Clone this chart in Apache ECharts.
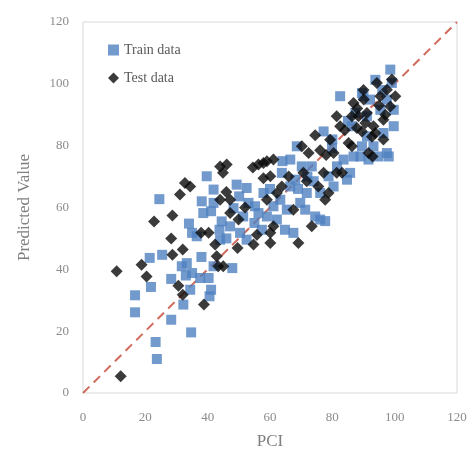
<!DOCTYPE html>
<html>
<head>
<meta charset="utf-8">
<script src="https://cdn.jsdelivr.net/npm/echarts@6/dist/echarts.min.js"></script>
<style>
  html, body { margin: 0; padding: 0; background: #fff; }
  #chart { width: 474px; height: 457px; }
</style>
</head>
<body>
<div id="chart"></div>
<script>
// train data (PCI, predicted)
var trainX = [16.7, 16.7, 21.8, 21.4, 24.5, 25.4, 23.3, 23.7, 28.3, 34.7, 28.3, 31.7, 33.3, 32.2, 34.4, 35.0, 34.0, 35.0,
  37.6, 40.3, 41.1, 40.6, 39.7, 38.1, 41.1, 41.9, 43.8, 44.0, 47.2, 47.9, 41.9, 49.3, 50.1, 51.4, 50.4, 55.2, 52.5,
  59.0, 61.1, 62.2, 64.8, 63.8, 66.5, 68.1, 68.6, 67.5, 69.7, 71.8, 73.4, 74.5, 76.1, 77.7, 76.1, 78.8, 77.2, 79.9,
  81.5, 82.5, 83.6, 84.7, 86.3, 87.4, 89.0, 89.5, 91.1, 91.6, 93.2, 94.8, 96.4, 97.5, 98.1, 98.6, 99.7, 99.7, 97.5,
  99.1, 92.1, 91.1, 95.4, 93.8, 52.5, 57.4, 36.5, 38.6, 41.9, 44.5, 48.3, 53.1, 56.3, 57.9, 63.3, 65.4, 66.5, 70.2,
  71.3, 74.0, 80.4, 85.7, 86.8, 89.5, 90.0, 96.0, 85.0, 80.0, 72.0, 60.0, 55.0, 46.0, 38.0, 33.0, 64.0, 69.0];
var trainY = [31.6, 26.1, 34.3, 43.7, 62.7, 44.7, 16.5, 11.0, 23.7, 19.6, 36.9, 41.0, 42.0, 28.6, 33.4, 38.8, 54.8, 51.8,
  37.2, 37.2, 33.4, 31.3, 70.1, 62.0, 58.8, 65.8, 52.8, 49.6, 53.9, 40.4, 41.0, 67.4, 63.6, 57.1, 51.8, 60.4, 66.3,
  57.1, 60.4, 56.1, 52.8, 71.2, 75.5, 69.0, 79.8, 51.8, 61.5, 64.7, 73.3, 57.1, 56.1, 55.6, 64.7, 70.1, 84.6, 79.2,
  73.3, 96.0, 75.5, 69.0, 86.3, 90.6, 76.5, 97.0, 83.0, 75.5, 79.8, 76.5, 84.1, 77.6, 76.5, 104.6, 91.6, 86.3, 94.9,
  100.3, 94.9, 89.5, 91.6, 101.3, 49.6, 52.8, 50.7, 58.2, 61.5, 55.5, 59.8, 61.5, 58.2, 64.7, 62.5, 59.3, 66.8, 73.3,
  59.3, 68.5, 66.8, 71.2, 76.5, 79.8, 96.0, 98.0, 88.0, 82.0, 70.0, 66.0, 55.0, 50.0, 44.0, 38.0, 75.0, 66.0];

// test data (PCI, predicted)
var testX = [10.8, 12.1, 18.8, 20.4, 22.8, 28.7, 28.3, 28.7, 30.6, 32.0, 32.0, 31.1, 32.7, 34.4, 38.8, 37.9, 40.3, 42.4,
  42.9, 43.4, 45.0, 44.0, 44.9, 46.1, 44.0, 47.2, 47.2, 49.6, 49.9, 54.5, 54.7, 55.8, 56.3, 57.9, 59.0, 61.1, 59.0,
  57.9, 60.1, 60.1, 61.1, 60.1, 62.2, 63.8, 67.5, 69.1, 70.7, 71.8, 70.2, 72.4, 73.4, 74.5, 76.1, 75.5, 77.2, 77.7,
  78.8, 79.3, 80.4, 81.4, 81.4, 83.1, 82.5, 85.2, 86.3, 86.8, 88.4, 87.9, 89.5, 90.1, 90.6, 91.1, 91.6, 92.9, 93.2,
  93.8, 94.3, 95.4, 96.4, 96.4, 97.5, 99.1, 100.2, 98.6, 92.7, 86.3, 88.0, 90.0, 95.0, 97.0, 84.0, 78.0, 66.0, 52.0, 46.0];
var testY = [39.4, 5.4, 41.5, 37.7, 55.5, 57.4, 50.0, 44.7, 34.7, 31.8, 46.4, 64.2, 67.9, 66.8, 28.6, 51.8, 51.8, 48.0,
  44.2, 41.0, 41.0, 73.3, 71.2, 73.9, 62.5, 62.5, 58.2, 46.9, 56.1, 72.9, 48.0, 51.2, 73.9, 74.4, 75.0, 75.5, 62.5,
  69.5, 48.5, 51.8, 53.9, 70.1, 64.7, 66.8, 59.3, 48.5, 71.2, 68.5, 79.8, 77.6, 53.9, 83.4, 78.5, 66.8, 71.2, 62.5,
  64.7, 81.9, 77.6, 89.5, 71.2, 71.2, 86.3, 80.9, 79.8, 93.8, 89.5, 85.7, 84.6, 94.9, 87.3, 90.6, 77.6, 76.5, 86.3,
  84.1, 100.3, 96.0, 88.4, 82.0, 98.1, 101.4, 96.0, 92.7, 82.9, 89.5, 92.0, 98.0, 93.0, 90.0, 85.0, 77.0, 70.0, 60.0, 65.0];

// 1:1 reference line
var lineX = [0, 120];
var lineY = [0, 120];

function pairs(xs, ys) {
  var out = [];
  for (let i = 0; i < xs.length; i++) out.push([xs[i], ys[i]]);
  return out;
}

var font = '"Liberation Serif", "DejaVu Serif", serif';
var myChart = echarts.init(document.getElementById('chart'));
var option = {
  animation: false,
  grid: {
    left: 83, right: 17, top: 22, bottom: 64,
    show: true, borderColor: '#d9d9d9', borderWidth: 1
  },
  legend: {
    orient: 'vertical',
    left: 103, top: 38,
    itemGap: 14,
    itemWidth: 11, itemHeight: 11,
    textStyle: { fontFamily: font, fontSize: 14, color: '#595959' },
    data: [
      { name: 'Train data', icon: 'rect' },
      { name: 'Test data', icon: 'diamond' }
    ]
  },
  xAxis: {
    type: 'value', min: 0, max: 120, interval: 20,
    name: 'PCI', nameLocation: 'middle', nameGap: 40,
    nameTextStyle: { fontFamily: font, fontSize: 17, color: '#7f7f7f' },
    axisLine: { show: false }, axisTick: { show: false },
    splitLine: { show: false },
    axisLabel: { fontFamily: font, fontSize: 13, color: '#8c8c8c', margin: 18 }
  },
  yAxis: {
    type: 'value', min: 0, max: 120, interval: 20,
    name: 'Predicted Value', nameLocation: 'middle', nameGap: 50,
    nameTextStyle: { fontFamily: font, fontSize: 17, color: '#7f7f7f' },
    axisLine: { show: false }, axisTick: { show: false },
    splitLine: { show: false },
    axisLabel: { fontFamily: font, fontSize: 13, color: '#8c8c8c', margin: 14 }
  },
  series: [
    {
      name: 'Line', type: 'line', data: pairs(lineX, lineY),
      symbol: 'none', silent: true, z: 1,
      lineStyle: { color: '#d06a5c', width: 2, type: [9, 6] }
    },
    {
      name: 'Train data', type: 'scatter', data: pairs(trainX, trainY),
      symbol: 'rect', symbolSize: 10, z: 2,
      itemStyle: { color: '#4f81c0' }
    },
    {
      name: 'Test data', type: 'scatter', data: pairs(testX, testY),
      symbol: 'diamond', symbolSize: 12, z: 3,
      itemStyle: { color: '#0a0a0a' }
    }
  ]
};
myChart.setOption(option);
</script>
</body>
</html>
